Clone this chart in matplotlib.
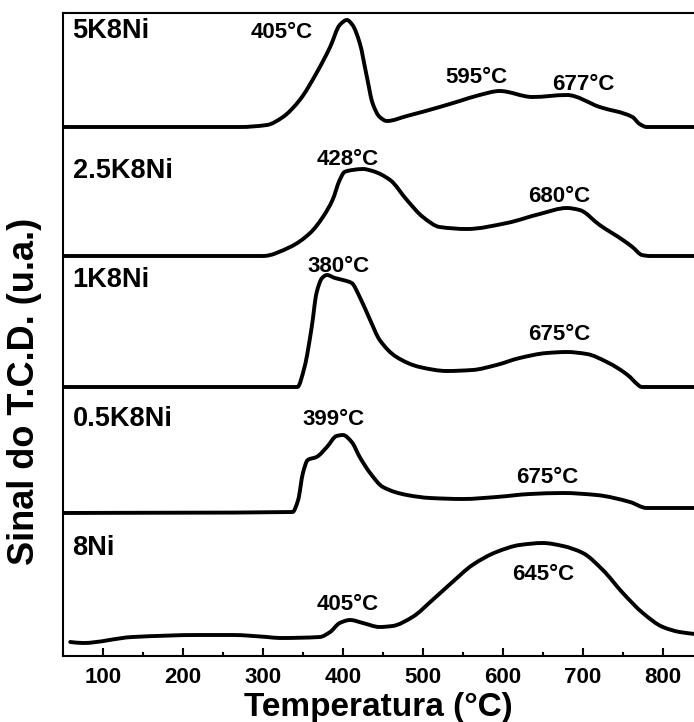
import numpy as np
import matplotlib.pyplot as plt
from matplotlib.ticker import MultipleLocator
from matplotlib.path import Path
from matplotlib.patches import PathPatch

plt.rcParams['font.family'] = ['Liberation Sans', 'DejaVu Sans']
plt.rcParams['font.weight'] = 'bold'

# perfis de TPR (temperatura, sinal acima da linha de base)
T_5K = [50, 271, 305, 325, 346, 367, 384, 396, 405, 412, 421, 430, 437, 446, 455, 480, 521, 546, 571, 596, 637, 680, 721, 762, 771, 780, 840]
s_5K = [0, 0, 2, 10, 27, 54, 80, 102, 107, 102, 84, 50, 24, 10, 6, 11, 20, 26, 32, 36, 30, 32, 20, 10, 3, 0, 0]

T_25K = [50, 300, 334, 359, 375, 387, 396, 402, 412, 425, 437, 459, 480, 500, 521, 555, 605, 646, 680, 696, 721, 750, 762, 774, 784, 840]
s_25K = [0, 0, 9, 23, 39, 56, 76, 84, 86, 87, 85, 76, 56, 39, 29, 27, 33, 42, 48, 46, 31, 16, 9, 1, 0, 0]

T_1K = [50, 343, 352, 361, 367, 374, 380, 390, 400, 411, 421, 434, 446, 467, 496, 530, 562, 592, 621, 655, 680, 705, 730, 759, 765, 774, 840]
s_1K = [0, 0, 20, 60, 94, 109, 112, 109, 107, 104, 90, 67, 47, 30, 20, 16, 17, 22, 29, 34, 35, 33, 25, 10, 5, 0, 0]

T_05K = [50, 337, 344, 350, 356, 367, 380, 392, 400, 411, 421, 434, 450, 480, 509, 550, 592, 634, 675, 717, 759, 780, 840]
s_05K = [0, 1, 13, 40, 53, 56, 66, 77, 78, 71, 56, 40, 26, 18, 15, 14, 16, 19, 20, 18, 11, 5, 5]

T_8Ni = [59, 75, 137, 221, 262, 305, 321, 371, 384, 396, 409, 425, 446, 462, 487, 512, 537, 562, 592, 621, 650, 675, 700, 725, 750, 775, 800, 821, 840]
s_8Ni = [1, 0, 6, 8, 8, 6, 5, 6, 11, 20, 23, 20, 16, 17, 26, 43, 61, 78, 91, 98, 100, 97, 90, 73, 50, 30, 16, 11, 9]

amostras = ['5K8Ni', '2.5K8Ni', '1K8Ni', '0.5K8Ni', '8Ni']
deslocamento = [529, 400, 269, 143, 13]

# picos anotados: texto, temperatura, altura
picos_txt = ['405°C', '595°C', '677°C', '428°C', '680°C', '380°C', '675°C', '399°C', '675°C', '405°C', '645°C']
picos_T = [324, 567, 700, 406, 671, 394, 671, 388, 656, 406, 650]
picos_y = [618, 573, 566, 491, 454, 384, 316, 231, 173, 46, 76]

nome_y = [618, 478, 369, 230, 101]

curvas_T = [T_5K, T_25K, T_1K, T_05K, T_8Ni]
curvas_s = [s_5K, s_25K, s_1K, s_05K, s_8Ni]


def caminho_suave(x, y):
    # curva de Bezier que passa pelos pontos lidos (tangentes tipo pchip, sem overshoot)
    x = np.asarray(x, float)
    y = np.asarray(y, float)
    h = np.diff(x)
    d = np.diff(y) / h
    m = np.zeros(len(x))
    m[0] = d[0]
    m[-1] = d[-1]
    for k in range(1, len(x) - 1):
        if d[k-1] * d[k] > 0:
            w1 = 2*h[k] + h[k-1]
            w2 = h[k] + 2*h[k-1]
            m[k] = (w1 + w2) / (w1/d[k-1] + w2/d[k])
    verts = [(x[0], y[0])]
    codes = [Path.MOVETO]
    for k in range(len(x) - 1):
        verts += [(x[k] + h[k]/3, y[k] + m[k]*h[k]/3),
                  (x[k+1] - h[k]/3, y[k+1] - m[k+1]*h[k]/3),
                  (x[k+1], y[k+1])]
        codes += [Path.CURVE4] * 3
    return Path(verts, codes)


fig = plt.figure(figsize=(6.94, 7.22), dpi=100)
ax = fig.add_axes([63/694, 66/722, 631/694, 643/722])

for i in range(len(amostras)):
    y = np.array(curvas_s[i]) + deslocamento[i]
    ax.add_patch(PathPatch(caminho_suave(curvas_T[i], y), fill=False, edgecolor='black',
                           lw=2.8, capstyle='round', joinstyle='round'))
    ax.text(62, nome_y[i], amostras[i], fontsize=19.5, fontweight='bold', ha='left', va='baseline')

for i in range(len(picos_txt)):
    ax.text(picos_T[i], picos_y[i], picos_txt[i], fontsize=16, fontweight='bold', ha='center', va='baseline')

ax.set_xlim(50, 839)
ax.set_ylim(0, 643)
ax.set_yticks([])
ax.xaxis.set_major_locator(MultipleLocator(100))
ax.xaxis.set_minor_locator(MultipleLocator(50))
ax.tick_params(axis='x', which='major', direction='in', length=6, width=1.5, pad=8, labelsize=16)
ax.tick_params(axis='x', which='minor', direction='in', length=3, width=1.5)
for lab in ax.get_xticklabels():
    lab.set_fontweight('bold')
ax.spines['right'].set_visible(False)
for lado in ['left', 'bottom', 'top']:
    ax.spines[lado].set_linewidth(1.5)

ax.set_xlabel('Temperatura (°C)', fontsize=24, fontweight='bold', labelpad=2.5)
ax.set_ylabel('Sinal do T.C.D. (u.a.)', fontsize=26, fontweight='bold')
ax.yaxis.set_label_coords(-0.033, 0.412)

plt.savefig('out.png', dpi=100)
plt.close()
